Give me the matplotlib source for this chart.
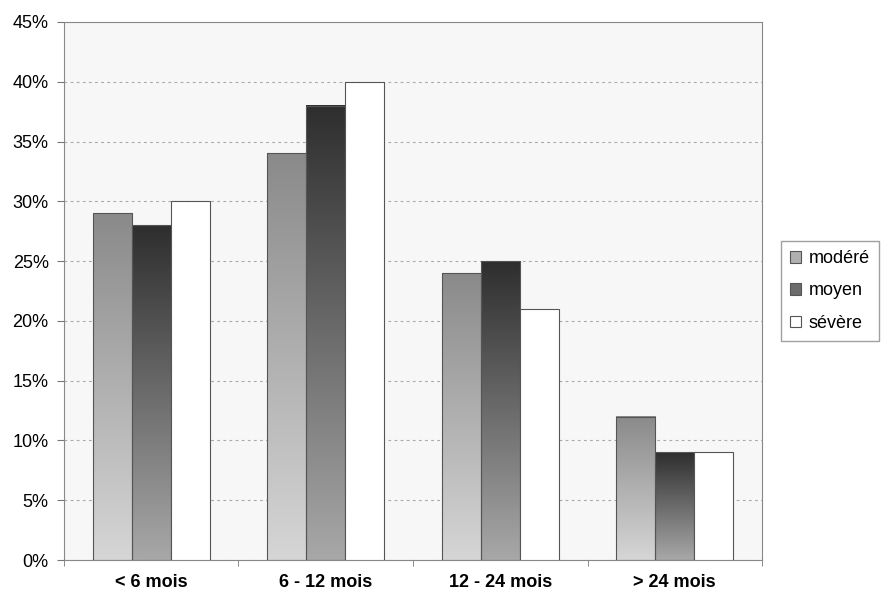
import numpy as np
import matplotlib.pyplot as plt
from matplotlib.colors import LinearSegmentedColormap
from matplotlib.ticker import FuncFormatter, MultipleLocator

categories = ['< 6 mois', '6 - 12 mois', '12 - 24 mois', '> 24 mois']
modere = [29, 34, 24, 12]
moyen = [28, 38, 25, 9]
severe = [30, 40, 21, 9]

plt.rcParams['font.family'] = ['Liberation Sans', 'DejaVu Sans']

fig = plt.figure(figsize=(8.81, 5.93), dpi=100)
ax = fig.add_axes([0.0726, 0.0556, 0.7924, 0.9074])
ax.set_facecolor('#f7f7f7')

x = np.arange(len(categories))
w = 0.224
series = [
    ('modéré', modere, ('#d6d6d6', '#8a8a8a')),
    ('moyen', moyen, ('#a8a8a8', '#2e2e2e')),
    ('sévère', severe, None),
]

grad = np.linspace(0, 1, 256).reshape(-1, 1)
handles = []
for i, (name, vals, cols) in enumerate(series):
    face = 'white' if cols is None else 'none'
    bars = ax.bar(x + (i - 1) * w, vals, w, facecolor=face,
                  edgecolor='#555555', linewidth=0.8, zorder=3)
    if cols is not None:
        cmap = LinearSegmentedColormap.from_list(name, list(cols))
        for b in bars:
            x0, y0 = b.get_x(), b.get_y()
            ax.imshow(grad, cmap=cmap, origin='lower', aspect='auto',
                      extent=[x0, x0 + b.get_width(), y0, y0 + b.get_height()],
                      zorder=2, interpolation='bilinear')
        mid = cmap(0.5)
    else:
        mid = 'white'
    handles.append(plt.Rectangle((0, 0), 1, 1, facecolor=mid,
                                 edgecolor='#555555', linewidth=0.8))

ax.set_xlim(-0.5, len(categories) - 0.5)
ax.set_ylim(0, 45)
ax.yaxis.set_major_locator(MultipleLocator(5))
ax.yaxis.set_major_formatter(FuncFormatter(lambda v, p: f'{v:.0f}%'))
ax.grid(axis='y', color='#aaaaaa', linestyle=(0, (2.5, 3)), linewidth=0.8, zorder=1)

ax.set_xticks(x)
ax.set_xticklabels(categories, fontweight='bold', fontsize=13)
ax.set_xticks(np.arange(len(categories) + 1) - 0.5, minor=True)
ax.tick_params(axis='x', which='major', length=0, pad=10)
ax.tick_params(axis='x', which='minor', length=4, color='#777777')
ax.tick_params(axis='y', length=5, color='#777777', labelsize=13, pad=6)

for s in ax.spines.values():
    s.set_color('#888888')
    s.set_linewidth(0.8)

leg = ax.legend(handles, [s[0] for s in series], loc='center left',
                bbox_to_anchor=(1.02, 0.5), fontsize=13, frameon=True,
                fancybox=False, edgecolor='#888888', handlelength=0.6,
                handleheight=0.6, handletextpad=0.4, labelspacing=0.85,
                borderpad=0.5, borderaxespad=0.3)

fig.savefig('out.png', dpi=100)
